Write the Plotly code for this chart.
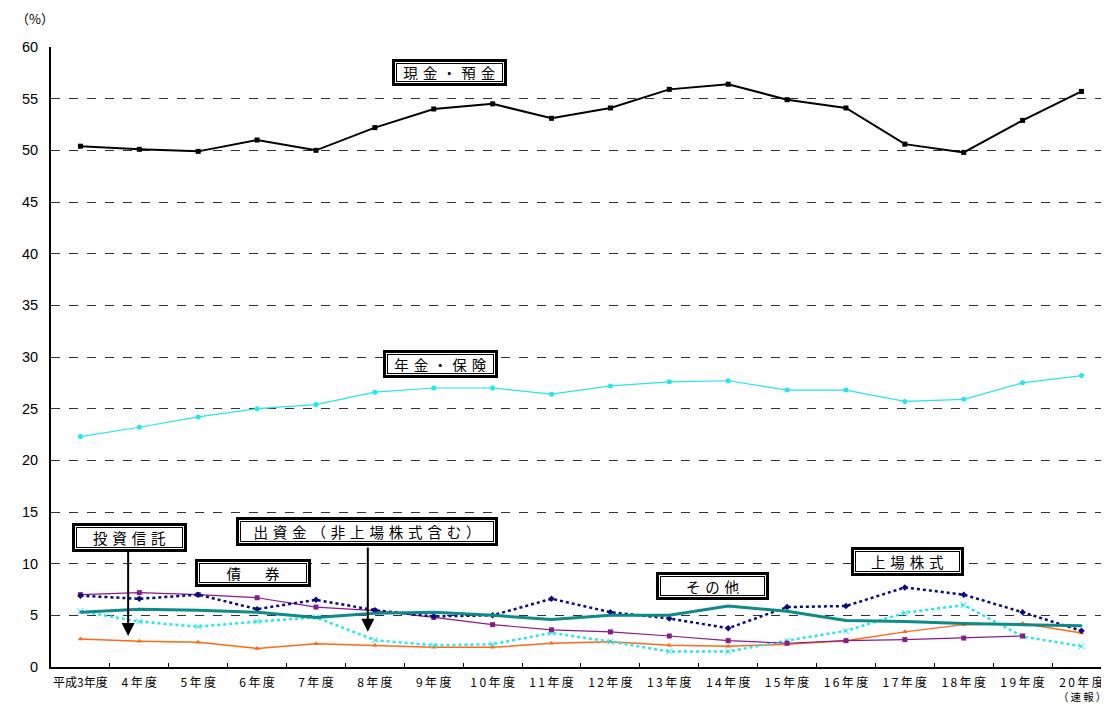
import plotly.graph_objects as go

categories = ["平成3年度", "4年度", "5年度", "6年度", "7年度", "8年度", "9年度", "10年度",
              "11年度", "12年度", "13年度", "14年度", "15年度", "16年度", "17年度",
              "18年度", "19年度", "20年度"]
last_note = "（速報）"

cash_deposits = [50.4, 50.1, 49.9, 51.0, 50.0, 52.2, 54.0, 54.5, 53.1, 54.1, 55.9, 56.4,
                 54.9, 54.1, 50.6, 49.8, 52.9, 55.7]
pension_insurance = [22.3, 23.2, 24.2, 25.0, 25.4, 26.6, 27.0, 27.0, 26.4, 27.2, 27.6, 27.7,
                     26.8, 26.8, 25.7, 25.9, 27.5, 28.2]
bonds = [7.0, 7.2, 7.0, 6.7, 5.8, 5.45, 4.8, 4.1, 3.6, 3.4, 3.0, 2.55,
         2.3, 2.55, 2.65, 2.8, 3.0, None]
listed_stocks = [6.9, 6.6, 7.0, 5.6, 6.5, 5.5, 4.9, 5.0, 6.6, 5.3, 4.7, 3.75,
                 5.8, 5.9, 7.7, 7.0, 5.3, 3.5]
others = [5.3, 5.6, 5.5, 5.3, 4.8, 5.2, 5.3, 5.0, 4.6, 5.0, 5.0, 5.9,
          5.4, 4.5, 4.4, 4.2, 4.1, 4.0]
investment_capital = [5.4, 4.4, 3.9, 4.4, 4.8, 2.6, 2.1, 2.2, 3.3, 2.45, 1.5, 1.5,
                      2.55, 3.5, 5.25, 6.0, 2.95, 2.0]
investment_trusts = [2.7, 2.5, 2.4, 1.8, 2.25, 2.1, 1.9, 1.9, 2.3, 2.45, 2.1, 2.0,
                     2.2, 2.55, 3.4, 4.1, 4.2, 3.3]

y_ticks = list(range(0, 61, 5))

fig = go.Figure()

def add(y, color, width, dash, symbol, msize):
    fig.add_trace(go.Scatter(
        x=categories, y=y, mode="lines+markers",
        line=dict(color=color, width=width, dash=dash),
        marker=dict(symbol=symbol, size=msize, color=color),
        connectgaps=False, showlegend=False, hoverinfo="skip"))

add(investment_trusts, "#FF6A13", 1.5, "solid", "triangle-up", 5)
add(investment_capital, "#22E6F0", 2.5, "dot", "x-thin-open", 6)
add(bonds, "#8B1A8B", 1.2, "solid", "square", 5)
add(listed_stocks, "#0A0A80", 2.5, "dot", "diamond", 5)
add(others, "#0E8A8A", 3, "solid", "circle", 2)
add(pension_insurance, "#22E6F0", 1.2, "solid", "circle", 5)
add(cash_deposits, "#000000", 2, "solid", "square", 5)

jp = "Noto Sans CJK JP"
sp = "\u2004"
thin = "\u2009"

def spaced(t, s=sp):
    return s.join(list(t))

tick_text = [categories[0]] + [spaced(c, thin) for c in categories[1:]]

# text, x (category index), y (value), box width, box height (px)
labels = [
    ("現金・預金", 6.26, 57.5, 115, 27),
    ("年金・保険", 6.11, 29.3, 115, 28),
    ("投資信託", 0.84, 12.5, 115, 29),
    ("出資金（非上場株式含む）", 4.86, 13.1, 262, 29),
    ("債\u3000券", 2.93, 9.1, 116, 28),
    ("その他", 10.73, 7.8, 113, 28),
    ("上場株式", 14.04, 10.2, 113, 29),
]

annotations = []
for text, x, y, w, h in labels:
    t = spaced(text)
    annotations.append(dict(x=x, y=y, xref="x", yref="y", text=t, showarrow=False,
                            font=dict(family=jp, size=14.5, color="black"),
                            width=w - 12, height=h - 12, align="center", valign="middle",
                            bgcolor="white", bordercolor="black", borderwidth=3,
                            borderpad=3))
    annotations.append(dict(x=x, y=y, xref="x", yref="y", text=t, showarrow=False,
                            font=dict(family=jp, size=14.5, color="black"),
                            width=w - 12, height=h - 12, align="center", valign="middle",
                            bgcolor="white", bordercolor="black", borderwidth=1,
                            borderpad=1))

# arrows
for x, y0, y1 in [(0.81, 11.3, 3.0), (4.88, 11.7, 3.4)]:
    annotations.append(dict(x=x, y=y1, ax=x, ay=y0, xref="x", yref="y", axref="x", ayref="y",
                            text="", showarrow=True, arrowhead=2, arrowsize=1.3,
                            arrowwidth=2, arrowcolor="black"))

annotations.append(dict(x=0, y=1, xref="paper", yref="paper", xshift=-37, yshift=29,
                        text="（%）", showarrow=False, xanchor="left", yanchor="middle",
                        font=dict(family=jp, size=13, color="black")))

annotations.append(dict(x=categories[-1], y=0, xref="x", yref="paper", yshift=-29,
                        text=spaced(last_note, thin), showarrow=False,
                        xanchor="center", yanchor="middle", borderpad=0,
                        font=dict(family=jp, size=10.5, color="black")))

# the page shows the figure 8px in from the top-left corner
fig.update_layout(
    width=1101, height=696,
    margin=dict(l=43, r=1, t=39, b=37),
    paper_bgcolor="white", plot_bgcolor="white",
    annotations=annotations,
    xaxis=dict(type="category", range=[-0.5, 17.45], showgrid=False, automargin=False,
               showline=True, linecolor="black", linewidth=2, tickangle=0,
               tickmode="array", tickvals=categories, ticktext=tick_text,
               ticks="inside", tickson="boundaries", ticklen=4, tickcolor="black",
               ticklabelstandoff=4,
               tickfont=dict(family=jp, size=12, color="black")),
    yaxis=dict(range=[0, 60], tickvals=y_ticks, showgrid=True, gridcolor="#333333",
               griddash="dash", gridwidth=1, zeroline=False, automargin=False,
               showline=True, linecolor="black", linewidth=2, ticklabelstandoff=8,
               tickfont=dict(family="Liberation Sans", size=14.5, color="black")),
)

fig.write_html("out.html")
